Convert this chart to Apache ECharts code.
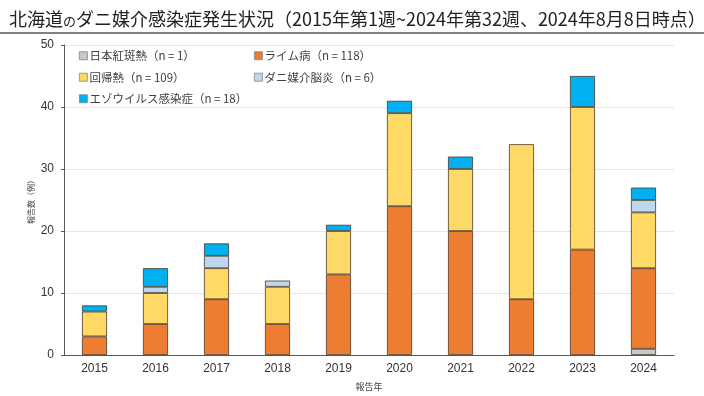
<!DOCTYPE html>
<html>
<head>
<meta charset="utf-8">
<script src="https://cdn.jsdelivr.net/npm/echarts@6/dist/echarts.min.js"></script>
<style>
  html, body { margin: 0; padding: 0; background: #fff; }
  #chart { width: 704px; height: 396px; }
</style>
</head>
<body>
<div id="chart"></div>
<script>
var years = ['2015', '2016', '2017', '2018', '2019', '2020', '2021', '2022', '2023', '2024'];
var jsf = [0, 0, 0, 0, 0, 0, 0, 0, 0, 1];
var lyme = [3, 5, 9, 5, 13, 24, 20, 9, 17, 13];
var relapsing = [4, 5, 5, 6, 7, 15, 10, 25, 23, 9];
var encephalitis = [0, 1, 2, 1, 0, 0, 0, 0, 0, 2];
var yezo = [1, 3, 2, 0, 1, 2, 2, 0, 5, 2];
var names = ['日本紅斑熱（n = 1）', 'ライム病（n = 118）', '回帰熱（n = 109）', 'ダニ媒介脳炎（n = 6）', 'エゾウイルス感染症（n = 18）'];
var colors = ['#c9c9c9', '#ed7d31', '#ffd966', '#bdd7ee', '#00b0f0'];
var values = [jsf, lyme, relapsing, encephalitis, yezo];

var chart = echarts.init(document.getElementById('chart'));

var font = '"Noto Sans CJK JP", "Liberation Sans", sans-serif';

var series = names.map(function (n, i) {
    return {
        name: n,
        type: 'bar',
        stack: 'total',
        barWidth: 25,
        itemStyle: { color: colors[i], borderColor: '#4a3a2a', borderWidth: 0.8 },
        data: values[i].map(function (v) { return v === 0 ? null : v; })
    };
});

var legendCommon = {
    orient: 'vertical',
    top: 45,
    itemWidth: 8,
    itemHeight: 8,
    itemGap: 10,
    icon: 'rect',
    itemStyle: { borderColor: '#888', borderWidth: 0.8 },
    textStyle: { fontSize: 11.5, color: '#404040', fontFamily: font, padding: [0, 0, 0, -3] }
};

var option = {
    animation: false,
    textStyle: { fontFamily: font },
    title: {
        text: '北海道{s|の}ダニ媒介感染症発生状況（2015年第1週~2024年第32週、2024年8月8日時点）',
        left: 4,
        top: 5,
        textStyle: {
            fontSize: 18,
            fontWeight: 'normal',
            color: '#222',
            fontFamily: font,
            rich: { s: { fontSize: 13, color: '#222', fontFamily: font, padding: [4, 0, 0, 0] } }
        }
    },
    graphic: [{
        type: 'line',
        shape: { x1: 0, y1: 33, x2: 704, y2: 33 },
        style: { stroke: '#555', lineWidth: 1.5 }
    }],
    legend: [
        Object.assign({ left: 74, data: [names[0], names[2], names[4]] }, legendCommon),
        Object.assign({ left: 249, data: [names[1], names[3]] }, legendCommon)
    ],
    grid: { left: 64, right: 30, top: 45, bottom: 41 },
    xAxis: {
        type: 'category',
        data: years,
        name: '報告年',
        nameLocation: 'middle',
        nameGap: 27,
        nameTextStyle: { fontSize: 9, color: '#404040' },
        axisLine: { lineStyle: { color: '#595959', width: 1 } },
        axisTick: { show: false },
        axisLabel: { fontSize: 12, color: '#333', margin: 8, fontFamily: '"Liberation Sans", sans-serif' }
    },
    yAxis: {
        type: 'value',
        min: 0,
        max: 50,
        interval: 10,
        name: '報告数（例）',
        nameLocation: 'middle',
        nameGap: 29,
        nameMoveOverlap: false,
        nameRotate: 90,
        nameTextStyle: { fontSize: 8, color: '#404040' },
        axisLine: { show: true, lineStyle: { color: '#595959', width: 1 } },
        axisTick: { show: true, length: 3, lineStyle: { color: '#595959' } },
        axisLabel: { fontSize: 12, color: '#333', margin: 10, fontFamily: '"Liberation Sans", sans-serif' },
        splitLine: { lineStyle: { color: '#e6e6e6' } }
    },
    series: series
};

chart.setOption(option);
</script>
</body>
</html>
